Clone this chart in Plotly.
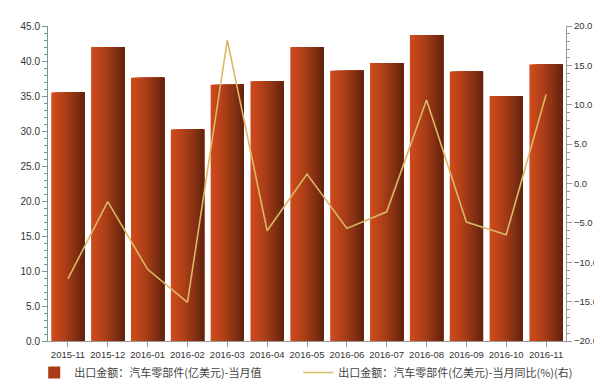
import plotly.graph_objects as go

months = ["2015-11", "2015-12", "2016-01", "2016-02", "2016-03", "2016-04", "2016-05",
          "2016-06", "2016-07", "2016-08", "2016-09", "2016-10", "2016-11"]
export_value = [35.5, 42.0, 37.6, 30.2, 36.6, 37.1, 42.0, 38.6, 39.7, 43.7, 38.5, 35.0, 39.5]
yoy_pct = [-12.1, -2.3, -10.9, -15.1, 18.2, -6.0, 1.2, -5.7, -3.6, 10.6, -4.9, -6.5, 11.3]

bar_name = "出口金额：汽车零部件(亿美元)-当月值"
line_name = "出口金额：汽车零部件(亿美元)-当月同比(%)(右)"

fig = go.Figure()

# gradient bars emulated with overlaid strips (each covers to the right edge)
N = 16
total_w = 0.835
left_rgb = (204, 74, 28)
right_rgb = (100, 36, 14)
w = total_w / N
for i in range(N):
    t = (i / (N - 1)) ** 1.3
    c = tuple(int(round(left_rgb[k] + (right_rgb[k] - left_rgb[k]) * t)) for k in range(3))
    fig.add_trace(go.Bar(
        x=months, y=export_value,
        width=total_w - i * w, offset=-total_w / 2 + i * w,
        marker=dict(color="rgb(%d,%d,%d)" % c, line=dict(width=0)),
        showlegend=False, hoverinfo="skip",
    ))

# legend entry for bars
fig.add_trace(go.Bar(
    x=[months[0]], y=[None], name=bar_name,
    marker=dict(color="rgb(170,58,22)", line=dict(width=0)),
    showlegend=True, legend="legend",
))

fig.add_trace(go.Scatter(
    x=months, y=yoy_pct, name=line_name, yaxis="y2",
    mode="lines", line=dict(color="#d9b866", width=1.6),
    legend="legend2",
))

ytickfont = dict(family="Liberation Sans, Arial, sans-serif", size=10, color="#333333")
y2tickfont = dict(family="Liberation Sans, Arial, sans-serif", size=9.5, color="#333333")
xtickfont = dict(family="Liberation Sans, Arial, sans-serif", size=9.5, color="#333333")
legfont = dict(family="Noto Sans CJK SC, sans-serif", size=11, color="#444444")

fig.update_layout(
    width=602, height=391,
    margin=dict(l=40, r=36, t=17, b=48),
    paper_bgcolor="white", plot_bgcolor="white",
    barmode="overlay",
    showlegend=True,
    legend=dict(
        orientation="h", x=-0.0266, xanchor="left", y=-0.1, yanchor="middle",
        font=legfont, bgcolor="rgba(0,0,0,0)",
    ),
    legend2=dict(
        orientation="h", x=0.483, xanchor="left", y=-0.1, yanchor="middle",
        font=legfont, bgcolor="rgba(0,0,0,0)",
    ),
    xaxis=dict(
        type="category", showgrid=False, showline=True, linecolor="#999999", linewidth=1,
        ticks="outside", ticklen=5, tickcolor="#999999", tickfont=xtickfont, tickangle=0,
    ),
    yaxis=dict(
        range=[0, 45], dtick=5, tickformat=".1f", showgrid=False, zeroline=False,
        showline=True, linecolor="#6f9a98", linewidth=1,
        ticks="outside", ticklen=5, tickcolor="#6f9a98", tickfont=ytickfont,
        minor=dict(dtick=1, ticks="outside", ticklen=3, tickcolor="#6f9a98"),
    ),
    yaxis2=dict(
        range=[-20, 20], dtick=5, tickformat=".1f", overlaying="y", side="right",
        showgrid=False, zeroline=False, showline=True, linecolor="#999999", linewidth=1,
        ticks="outside", ticklen=5, tickcolor="#999999", tickfont=y2tickfont,
        minor=dict(dtick=1, ticks="outside", ticklen=3, tickcolor="#999999"),
    ),
)

fig.write_html("out.html")
